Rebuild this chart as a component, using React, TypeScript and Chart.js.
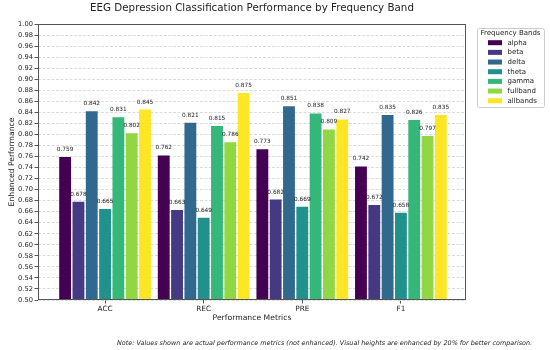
import React, { useEffect, useRef } from "react";
import { Chart, registerables } from "chart.js";

Chart.register(...registerables);

const metrics = ["ACC", "REC", "PRE", "F1"];
const bands = ["alpha", "beta", "delta", "theta", "gamma", "fullband", "allbands"];

const alphaVals = [0.759, 0.762, 0.773, 0.742];
const betaVals = [0.678, 0.663, 0.682, 0.672];
const deltaVals = [0.842, 0.821, 0.851, 0.835];
const thetaVals = [0.665, 0.649, 0.669, 0.658];
const gammaVals = [0.831, 0.815, 0.838, 0.826];
const fullbandVals = [0.802, 0.786, 0.809, 0.797];
const allbandsVals = [0.845, 0.875, 0.827, 0.835];

const seriesValues = [alphaVals, betaVals, deltaVals, thetaVals, gammaVals, fullbandVals, allbandsVals];
const bandColors = ["#440154", "#443983", "#31688e", "#21918c", "#35b779", "#90d743", "#fde725"];

const yMin = 0.5;
const yMax = 1.0;
const yStep = 0.02;

const titleText = "EEG Depression Classification Performance by Frequency Band";
const xTitle = "Performance Metrics";
const yTitle = "Enhanced Performance";
const legendTitle = "Frequency Bands";
const noteText =
  "Note: Values shown are actual performance metrics (not enhanced). Visual heights are enhanced by 20% for better comparison.";

const FONT = '"DejaVu Sans", "Liberation Sans", sans-serif';

function fitFont(ctx: CanvasRenderingContext2D, text: string, width: number, style: string) {
  ctx.font = `${style} 10px ${FONT}`;
  const w = ctx.measureText(text).width;
  const size = (10 * width) / w;
  return `${style} ${size.toFixed(2)}px ${FONT}`;
}

const decor = {
  id: "decor",
  afterDatasetsDraw(chart: any) {
    const ctx: CanvasRenderingContext2D = chart.ctx;
    const a = chart.chartArea;
    ctx.save();
    ctx.font = `5.8px ${FONT}`;
    ctx.fillStyle = "#222";
    ctx.textAlign = "center";
    ctx.textBaseline = "alphabetic";
    chart.data.datasets.forEach((_ds: any, di: number) => {
      const meta = chart.getDatasetMeta(di);
      meta.data.forEach((el: any, i: number) => {
        const v = seriesValues[di][i];
        ctx.fillText(v.toFixed(3), el.x, el.y - 6);
      });
    });
    ctx.strokeStyle = "#555";
    ctx.lineWidth = 1;
    const l = Math.round(a.left) + 0.5;
    const t = Math.round(a.top) + 0.5;
    const r = Math.round(a.right) - 0.5;
    const b = Math.round(a.bottom) - 0.5;
    ctx.strokeRect(l, t, r - l, b - t);
    ctx.restore();
  },
  afterDraw(chart: any) {
    const ctx: CanvasRenderingContext2D = chart.ctx;
    const a = chart.chartArea;
    const cx = (a.left + a.right) / 2;
    const cy = (a.top + a.bottom) / 2;
    ctx.save();
    ctx.fillStyle = "#222";
    ctx.textAlign = "center";
    ctx.textBaseline = "middle";
    ctx.font = fitFont(ctx, titleText, 324, "normal");
    ctx.fillText(titleText, cx, 8);
    ctx.font = fitFont(ctx, xTitle, 79, "normal");
    ctx.fillText(xTitle, cx, 318);
    ctx.save();
    ctx.translate(12, cy);
    ctx.rotate(-Math.PI / 2);
    ctx.font = fitFont(ctx, yTitle, 89, "normal");
    ctx.fillText(yTitle, 0, 0);
    ctx.restore();
    ctx.font = fitFont(ctx, noteText, 415, "italic");
    ctx.textAlign = "left";
    ctx.fillText(noteText, 117, 343);

    const lx = 477, ly = 28, lw = 67, lh = 79;
    ctx.beginPath();
    if ((ctx as any).roundRect) (ctx as any).roundRect(lx + 0.5, ly + 0.5, lw, lh, 2);
    else ctx.rect(lx + 0.5, ly + 0.5, lw, lh);
    ctx.fillStyle = "rgba(255,255,255,0.85)";
    ctx.fill();
    ctx.strokeStyle = "#cccccc";
    ctx.lineWidth = 1;
    ctx.stroke();
    ctx.fillStyle = "#222";
    ctx.textAlign = "center";
    ctx.font = `7px ${FONT}`;
    ctx.fillText(legendTitle, lx + lw / 2, 33.5);
    ctx.textAlign = "left";
    bands.forEach((name, i) => {
      const y = 42.7 + i * 9.67;
      ctx.fillStyle = bandColors[i];
      ctx.fillRect(488, y - 2.5, 14, 5);
      ctx.fillStyle = "#222";
      ctx.fillText(name, 507.5, y);
    });
    ctx.restore();
  },
};

export default function App() {
  const canvasRef = useRef<HTMLCanvasElement | null>(null);

  useEffect(() => {
    const canvas = canvasRef.current;
    if (!canvas) return;
    const datasets = bands.map((name, di) => ({
      label: name,
      data: seriesValues[di].map((v, i) => ({ x: i, y: v })),
      backgroundColor: bandColors[di],
      borderWidth: 0,
      categoryPercentage: 0.945,
      barPercentage: 0.89,
    }));
    const chart = new Chart(canvas, {
      type: "bar",
      data: { datasets } as any,
      plugins: [decor],
      options: {
        responsive: false,
        animation: false,
        devicePixelRatio: 1,
        layout: { padding: { left: 0, top: 24, right: 84, bottom: 0 } },
        plugins: {
          legend: { display: false },
          title: { display: false },
          tooltip: { enabled: false },
        },
        scales: {
          x: {
            type: "linear",
            min: -0.68,
            max: 3.66,
            offset: false,
            afterBuildTicks: (scale: any) => {
              scale.ticks = metrics.map((_m, i) => ({ value: i }));
            },
            afterFit: (scale: any) => {
              scale.height = 50;
            },
            ticks: {
              autoSkip: false,
              maxRotation: 0,
              padding: 1,
              color: "#222",
              font: { family: FONT, size: 7.3 },
              callback: (value: any) => metrics[value as number] ?? "",
            },
            grid: {
              offset: false,
              drawOnChartArea: false,
              drawTicks: true,
              tickLength: 3.5,
              tickColor: "#555",
            },
            border: { display: false },
          },
          y: {
            type: "linear",
            min: yMin,
            max: yMax,
            afterFit: (scale: any) => {
              scale.width = 38;
            },
            ticks: {
              stepSize: yStep,
              autoSkip: false,
              padding: 1.5,
              color: "#222",
              font: { family: FONT, size: 6.7 },
              callback: (value: any) => Number(value).toFixed(2),
            },
            grid: {
              color: "#dcdcdc",
              drawTicks: true,
              tickLength: 3.5,
              tickColor: "#555",
            },
            border: { display: false, dash: [3, 1.5] },
          },
        },
      } as any,
    });
    return () => chart.destroy();
  }, []);

  return (
    <div style={{ position: "absolute", left: 0, top: 0, width: 550, height: 350, background: "#fff" }}>
      <canvas ref={canvasRef} width={550} height={350} />
    </div>
  );
}
